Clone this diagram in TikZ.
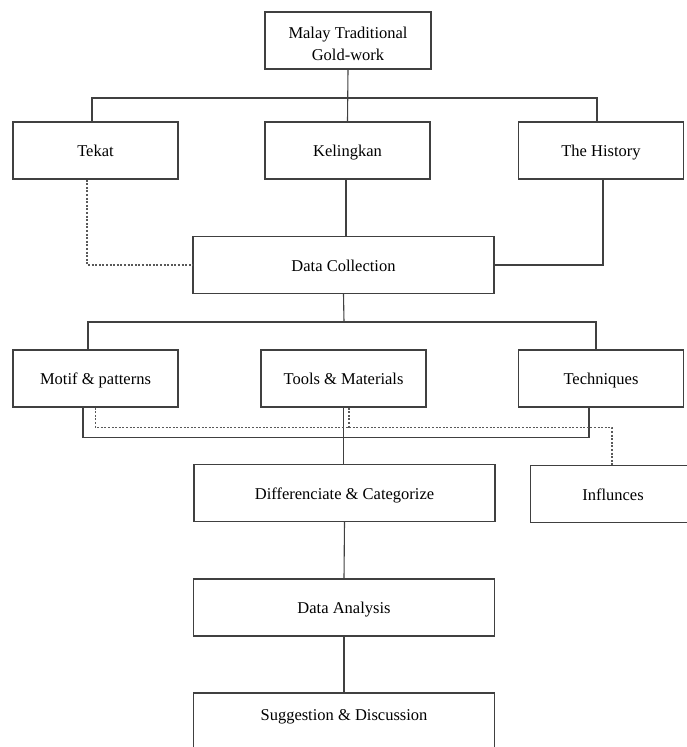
\documentclass[tikz,border=0pt]{standalone}
\usepackage{fontspec}
\setmainfont{Liberation Serif}
\usetikzlibrary{calc}

\begin{document}
\begin{tikzpicture}%
        [x=1pt, y=-1pt,
        box/.style={draw=black!75, line width=1.1pt, fill=white, align=center,
            minimum height=57pt, inner sep=0pt,
            font=\fontsize{16.5}{22}\selectfont},
        line1/.style={text height=13pt, text depth=1pt},
        small/.style={box, line1, minimum width=165pt},
        wide/.style={box, line1, minimum width=301pt},
        link/.style={draw=black!75, line width=1.1pt},
        dotline/.style={draw=black!65, line width=1.2pt, dash pattern=on 2pt off 1.6pt}]
    %
    \useasboundingbox (0,0) rectangle (686,747);
    %
    %% Drawing the boxes
    \node[box, minimum width=166pt] (gold) at (348,40.5)
        {\rule{0pt}{19pt}Malay Traditional\\Gold-work};
    \node[small] (tekat)    at (95.5,150.5) {Tekat};
    \node[small] (keling)   at (347.5,150.5) {Kelingkan};
    \node[small] (history)  at (601,150.5)  {The History};
    \node[wide]  (datacol)  at (343.5,265)  {Data Collection};
    \node[small] (motif)    at (95.5,378.5) {Motif \& patterns};
    \node[small] (tools)    at (343.5,378.5) {Tools \& Materials};
    \node[small] (techn)    at (601,378.5)  {Techniques};
    \node[wide]  (differ)   at (344.5,493)  {Differenciate \& Categorize};
    \node[small] (influ)    at (613,494)    {Influnces};
    \node[wide]  (analysis) at (344,607.5)  {Data Analysis};
    \node[wide, text depth=15pt] (suggest) at (344,721.5) {Suggestion \& Discussion};
    %
    %% Junctions
    \coordinate (top) at (346,98);
    \coordinate (mid) at (344,322);
    %
    %% Drawing the solid links
    \draw[link] (gold.south) -- (keling.north);
    \draw[link] ([xshift=-3.5pt]tekat.north) |- (top) -| ([xshift=-4pt]history.north);
    \draw[link] ([xshift=-1.5pt]keling.south) -- ([xshift=2.5pt]datacol.north);
    \draw[link] ([xshift=2pt]history.south) |- (datacol.east);
    \draw[link] (datacol.south) -- (mid);
    \draw[link] ([xshift=-7.5pt]motif.north) |- (mid) -| ([xshift=-5pt]techn.north);
    \draw[link] ([xshift=-12.5pt]motif.south) -- ++(0,30) -| ([xshift=-12pt]techn.south);
    \draw[link] (tools.south) -- ([xshift=-1pt]differ.north);
    \draw[link] (differ.south) -- (analysis.north);
    \draw[link] (analysis.south) -- (suggest.north);
    %
    %% Drawing the dotted links
    \draw[dotline] ([xshift=-8.5pt]tekat.south) |- (datacol.west);
    \draw[dotline] (motif.south) -- ++(0,20) -| ([xshift=-1pt]influ.north);
    \draw[dotline] ([xshift=5.5pt]tools.south) -- ++(0,20);
    %%
\end{tikzpicture}
\end{document}
